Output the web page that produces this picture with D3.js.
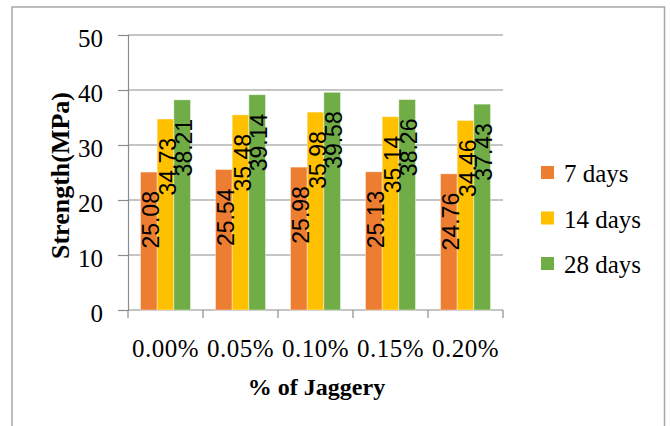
<!DOCTYPE html>
<html>
<head>
<meta charset="utf-8">
<script src="https://cdn.jsdelivr.net/npm/d3@7"></script>
<style>
  html, body { margin: 0; padding: 0; background: #fff; }
  svg { display: block; }
</style>
</head>
<body>
<svg id="chart" width="670" height="426"></svg>
<script>
// Compressive strength by jaggery dosage and curing age
const categories = ["0.00%", "0.05%", "0.10%", "0.15%", "0.20%"];
const seriesNames = ["7 days", "14 days", "28 days"];
const days7 = [25.08, 25.54, 25.98, 25.13, 24.76];
const days14 = [34.73, 35.48, 35.98, 35.14, 34.46];
const days28 = [38.21, 39.14, 39.58, 38.26, 37.43];
const yTicks = [0, 10, 20, 30, 40, 50];
const colors = ["#ED7D31", "#FFC000", "#70AD47"];

const seriesValues = [days7, days14, days28];

const svg = d3.select("#chart");

// outer chart frame
svg.append("rect")
  .attr("x", 12).attr("y", 7)
  .attr("width", 652.5).attr("height", 440)
  .attr("fill", "none")
  .attr("stroke", "#a6a6a6")
  .attr("stroke-width", 1.5);

const plot = { left: 128, right: 503, top: 35, bottom: 310 };

const y = d3.scaleLinear().domain([0, 50]).range([plot.bottom, plot.top]);
const x0 = d3.scaleBand().domain(categories).range([plot.left, plot.right]).padding(0);
const x1 = d3.scaleBand().domain(seriesNames).range([0, x0.bandwidth()])
  .paddingInner(0).paddingOuter(0.75);
const color = d3.scaleOrdinal().domain(seriesNames).range(colors);

const serifFont = "'Liberation Serif', 'Times New Roman', serif";
const sansFont = "'Liberation Sans', Arial, sans-serif";

// horizontal gridlines
svg.append("g")
  .selectAll("line")
  .data(yTicks.filter(d => d > 0))
  .join("line")
  .attr("x1", plot.left).attr("x2", plot.right)
  .attr("y1", d => y(d)).attr("y2", d => y(d))
  .attr("stroke", "#8c8c8c")
  .attr("stroke-width", 1.2);

// y axis
const yAxis = svg.append("g")
  .attr("transform", `translate(${plot.left},0)`)
  .call(d3.axisLeft(y).tickValues(yTicks).tickSize(10).tickPadding(0).tickFormat(d3.format("d")));
yAxis.select(".domain").attr("stroke", "#8c8c8c").attr("stroke-width", 1.2);
yAxis.selectAll(".tick line").attr("stroke", "#8c8c8c").attr("stroke-width", 1.2);
yAxis.selectAll(".tick text")
  .attr("x", -25)
  .attr("dy", "0.45em")
  .attr("fill", "#000")
  .style("font-family", serifFont)
  .style("font-size", "25px");

// x axis with ticks at category boundaries
const xAxisG = svg.append("g");
xAxisG.append("line")
  .attr("x1", plot.left).attr("x2", plot.right)
  .attr("y1", plot.bottom).attr("y2", plot.bottom)
  .attr("stroke", "#8c8c8c").attr("stroke-width", 1.2);
const boundaries = categories.map(c => x0(c)).concat([x0(categories[categories.length - 1]) + x0.bandwidth()]);
xAxisG.selectAll("line.tk")
  .data(boundaries)
  .join("line")
  .attr("class", "tk")
  .attr("x1", d => d).attr("x2", d => d)
  .attr("y1", plot.bottom).attr("y2", plot.bottom + 8)
  .attr("stroke", "#8c8c8c").attr("stroke-width", 1.2);
xAxisG.selectAll("text")
  .data(categories)
  .join("text")
  .attr("x", d => x0(d) + x0.bandwidth() / 2)
  .attr("y", 357)
  .attr("text-anchor", "middle")
  .style("font-family", serifFont)
  .style("font-size", "25px")
  .style("letter-spacing", "0.5px")
  .text(d => d);

// bars
const groups = svg.append("g")
  .selectAll("g")
  .data(categories)
  .join("g")
  .attr("transform", d => `translate(${x0(d)},0)`);

groups.selectAll("rect")
  .data((c, i) => seriesNames.map((s, j) => ({ series: s, value: seriesValues[j][i] })))
  .join("rect")
  .attr("x", d => x1(d.series))
  .attr("y", d => y(d.value))
  .attr("width", x1.bandwidth())
  .attr("height", d => y(0) - y(d.value))
  .attr("fill", d => color(d.series))
  .attr("stroke", "#ffffff")
  .attr("stroke-opacity", 0.5)
  .attr("stroke-width", 0.8);

// value labels, rotated inside the bar tops
groups.selectAll("text")
  .data((c, i) => seriesNames.map((s, j) => ({ series: s, value: seriesValues[j][i] })))
  .join("text")
  .attr("transform", d => {
    const cx = x1(d.series) + x1.bandwidth() / 2 + 10;
    const cy = y(d.value) + 19;
    return `translate(${cx},${cy}) rotate(-90)`;
  })
  .attr("text-anchor", "end")
  .style("font-family", sansFont)
  .style("font-size", "23px")
  .attr("fill", "#000")
  .text(d => d.value.toFixed(2));

// axis titles
svg.append("text")
  .attr("transform", `translate(69,${(plot.top + plot.bottom) / 2 + 3}) rotate(-90)`)
  .attr("text-anchor", "middle")
  .style("font-family", serifFont)
  .style("font-weight", "bold")
  .style("font-size", "26px")
  .text("Strength(MPa)");

svg.append("text")
  .attr("x", (plot.left + plot.right) / 2 + 1)
  .attr("y", 395)
  .attr("text-anchor", "middle")
  .style("font-family", serifFont)
  .style("font-weight", "bold")
  .style("font-size", "24px")
  .text("% of Jaggery");

// legend
const legend = svg.append("g")
  .selectAll("g")
  .data(seriesNames)
  .join("g")
  .attr("transform", (d, i) => `translate(541,${166 + i * 45.5})`);
legend.append("rect")
  .attr("width", 13).attr("height", 13)
  .attr("fill", d => color(d));
legend.append("text")
  .attr("x", 23).attr("y", 16)
  .style("font-family", serifFont)
  .style("font-size", "25px")
  .text(d => d);
</script>
</body>
</html>
